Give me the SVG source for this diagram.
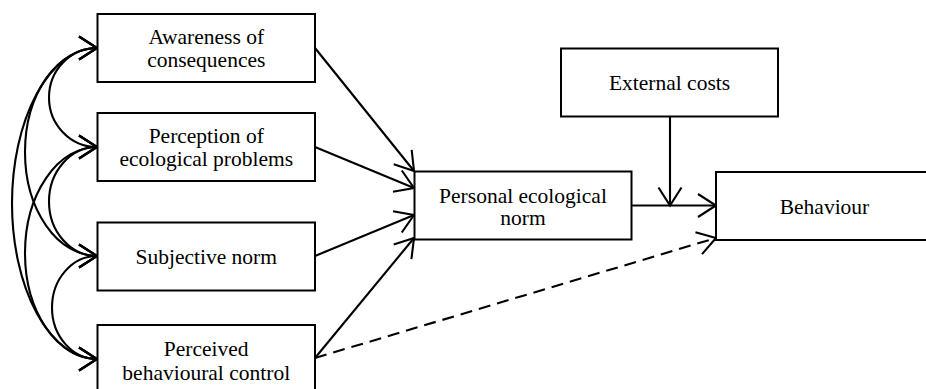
<svg xmlns="http://www.w3.org/2000/svg" width="926" height="389" viewBox="0 0 926 389">
<style>
.box{fill:#fff;stroke:#000;stroke-width:2}
.t{font-family:"Liberation Serif","Times New Roman",serif;font-size:21.5px;fill:#000;text-anchor:middle}
.c{fill:none;stroke:#000;stroke-width:2.1}
.d{stroke-dasharray:12 7}
</style>
<defs>
<marker id="ah" markerUnits="userSpaceOnUse" viewBox="-22 -14 24 28" markerWidth="24" markerHeight="28" refX="0" refY="0" orient="auto-start-reverse" overflow="visible">
<path d="M-18,-11.5 L0,0 L-18,11.5" fill="none" stroke="#000" stroke-width="2.1"/>
</marker>
</defs>
<rect width="926" height="389" fill="#fff"/>
<g id="connectors">
<path class="c" d="M97,48 A48,49.5 0 0 0 97,147" marker-start="url(#ah)" marker-end="url(#ah)"/>
<path class="c" d="M97,147 A48,54.5 0 0 0 97,256" marker-start="url(#ah)" marker-end="url(#ah)"/>
<path class="c" d="M97,256 A45,51.5 0 0 0 97,359" marker-start="url(#ah)" marker-end="url(#ah)"/>
<path class="c" d="M97,48 A72,104 0 0 0 97,256" marker-start="url(#ah)" marker-end="url(#ah)"/>
<path class="c" d="M97,147 A72,106 0 0 0 97,359" marker-start="url(#ah)" marker-end="url(#ah)"/>
<path class="c" d="M97,48 A85,155.5 0 0 0 97,359" marker-start="url(#ah)" marker-end="url(#ah)"/>
<line class="c" x1="315" y1="48" x2="414" y2="171" marker-end="url(#ah)"/>
<line class="c" x1="315" y1="147" x2="414" y2="188" marker-end="url(#ah)"/>
<line class="c" x1="315" y1="256" x2="414" y2="215" marker-end="url(#ah)"/>
<line class="c" x1="315" y1="358" x2="414" y2="238" marker-end="url(#ah)"/>
<line class="c d" x1="315" y1="358" x2="716" y2="238" marker-end="url(#ah)"/>
<line class="c" x1="631.5" y1="205.5" x2="716" y2="205.5" marker-end="url(#ah)"/>
<line class="c" x1="670" y1="117" x2="670" y2="205.5" marker-end="url(#ah)"/>
</g>
<g id="awareness">
<rect class="box" x="97.5" y="14" width="217.5" height="68"/>
<text class="t" x="206.25" y="44.3">Awareness of</text>
<text class="t" x="206.25" y="66.8">consequences</text>
</g>
<g id="perception">
<rect class="box" x="97.5" y="113" width="217.5" height="68"/>
<text class="t" x="206.25" y="142.5">Perception of</text>
<text class="t" x="206.25" y="165.5">ecological problems</text>
</g>
<g id="subjective">
<rect class="box" x="97.5" y="222.5" width="217.5" height="68"/>
<text class="t" x="206.25" y="263.5">Subjective norm</text>
</g>
<g id="perceived">
<rect class="box" x="97.5" y="325" width="217.5" height="68"/>
<text class="t" x="206.25" y="356">Perceived</text>
<text class="t" x="206.25" y="380">behavioural control</text>
</g>
<g id="personal">
<rect class="box" x="414.5" y="171.5" width="217" height="68"/>
<text class="t" x="523" y="202.5">Personal ecological</text>
<text class="t" x="523" y="225">norm</text>
</g>
<g id="external">
<rect class="box" x="561" y="48.5" width="217" height="68"/>
<text class="t" x="669.5" y="90">External costs</text>
</g>
<g id="behaviour">
<rect class="box" x="716" y="172" width="217" height="68"/>
<text class="t" x="824.5" y="214.3">Behaviour</text>
</g>
</svg>
